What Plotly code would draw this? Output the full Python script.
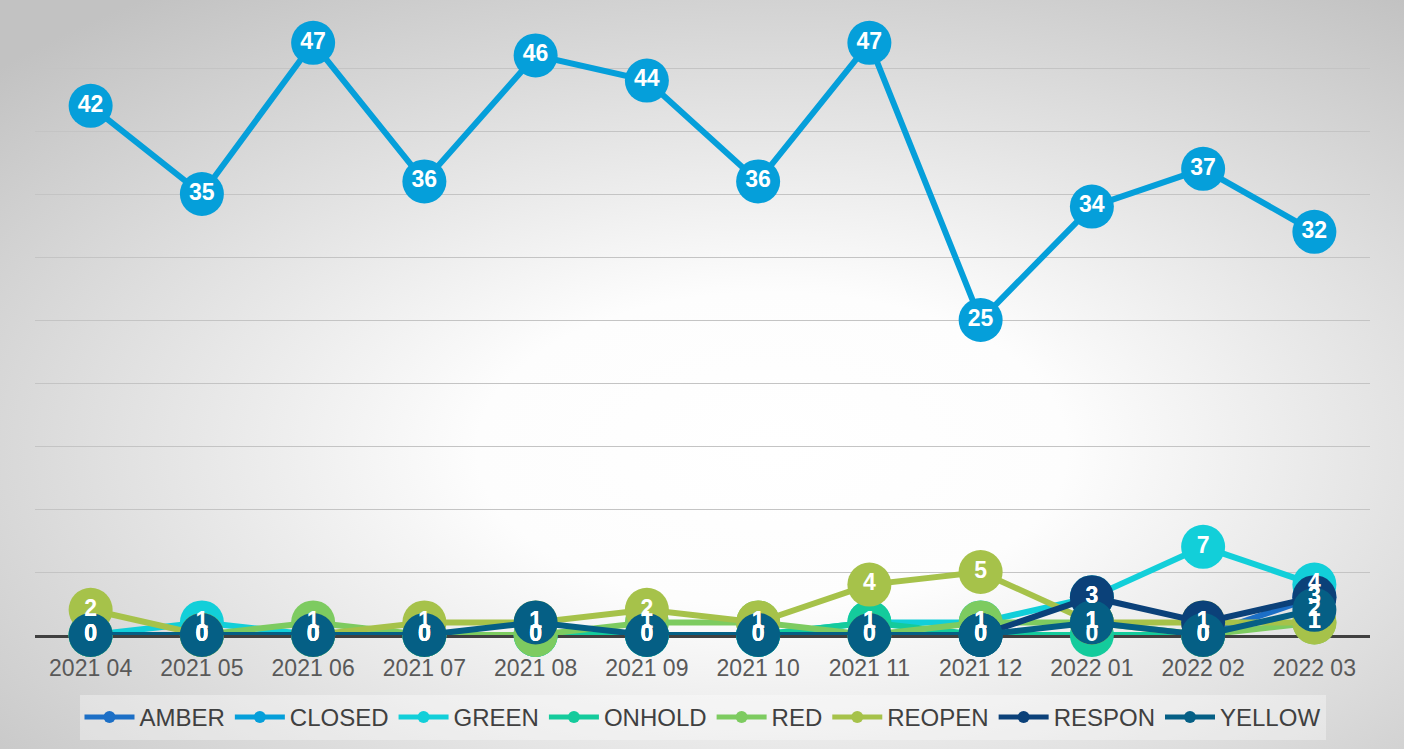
import base64
import plotly.graph_objects as go

months = ["2021 04", "2021 05", "2021 06", "2021 07", "2021 08", "2021 09",
          "2021 10", "2021 11", "2021 12", "2022 01", "2022 02", "2022 03"]

amber  = [None, None, None, None, None, None, None, None, None, None, 0, 3]
closed = [42, 35, 47, 36, 46, 44, 36, 47, 25, 34, 37, 32]
green  = [0, 1, 0, 0, 0, 0, 0, 1, 1, 3, 7, 4]
onhold = [0, 0, 0, 0, 0, 0, 0, 1, 0, 0, 0, None]
red    = [0, 0, 1, 0, 0, 1, 1, 0, 1, 1, 0, 1]
reopen = [2, 0, 0, 1, 1, 2, 1, 4, 5, 1, 1, 1]
respon = [None, None, None, None, None, None, None, None, 0, 3, 1, 3]
yellow = [0, 0, 0, 0, 1, 0, 0, 0, 0, 1, 0, 2]

series_names = ["AMBER", "CLOSED", "GREEN", "ONHOLD", "RED", "REOPEN", "RESPON", "YELLOW"]
series_values = [amber, closed, green, onhold, red, reopen, respon, yellow]
series_colors = ["#1c6fc6", "#059fda", "#12cfd9", "#14cb9c", "#7dcb60", "#a6c24a", "#0b4179", "#055f85"]

FONT = "Liberation Sans, Arial, sans-serif"

fig = go.Figure()

for name, vals, col in zip(series_names, series_values, series_colors):
    fig.add_trace(go.Scatter(
        x=months, y=vals, name=name, mode="lines+markers",
        line=dict(color=col, width=6),
        marker=dict(color=col, size=44),
        cliponaxis=False,
    ))

for name, vals in zip(series_names, series_values):
    fig.add_trace(go.Scatter(
        x=months, y=vals, mode="text",
        text=["" if v is None else str(v) for v in vals],
        textposition="middle center",
        textfont=dict(family=FONT, size=23, color="white", weight="bold"),
        showlegend=False, hoverinfo="skip", cliponaxis=False,
    ))

svg = ('<svg xmlns="http://www.w3.org/2000/svg" width="1404" height="749">'
       '<defs><radialGradient id="g" cx="0.55" cy="0.6" r="0.75">'
       '<stop offset="0" stop-color="#ffffff"/>'
       '<stop offset="0.28" stop-color="#fdfdfd"/>'
       '<stop offset="1" stop-color="#c2c2c2"/>'
       '</radialGradient></defs>'
       '<rect width="1404" height="749" fill="url(#g)"/></svg>')
src = "data:image/svg+xml;base64," + base64.b64encode(svg.encode()).decode()

L, R, T, B = 35, 34, 5, 114
W, H = 1404, 749
pw, ph = W - L - R, H - T - B

fig.update_layout(
    width=W, height=H,
    margin=dict(l=L, r=R, t=T, b=B),
    paper_bgcolor="rgba(0,0,0,0)",
    plot_bgcolor="rgba(0,0,0,0)",
    images=[dict(source=src, xref="paper", yref="paper",
                 x=-L / pw, y=1 + T / ph, sizex=W / pw, sizey=H / ph,
                 xanchor="left", yanchor="top", sizing="stretch", layer="below")],
    xaxis=dict(
        type="category", showgrid=False, showline=True, linecolor="#404040",
        linewidth=3, ticks="", layer="below traces", ticklabelstandoff=10,
        tickfont=dict(family=FONT, size=23, color="#595959"),
        range=[-0.5, 11.5],
    ),
    yaxis=dict(
        range=[0, 50], dtick=5, showticklabels=False, gridcolor="#c4c4c4",
        gridwidth=1, zeroline=False, layer="below traces",
    ),
    legend=dict(
        orientation="h", x=0.5, xanchor="center", y=-0.095, yanchor="top",
        bgcolor="rgba(255,255,255,0.35)",
        font=dict(family=FONT, size=24, color="#404040"),
        itemsizing="constant", itemwidth=50, tracegroupgap=0,
    ),
    showlegend=True,
)

fig.write_html("out.html")
